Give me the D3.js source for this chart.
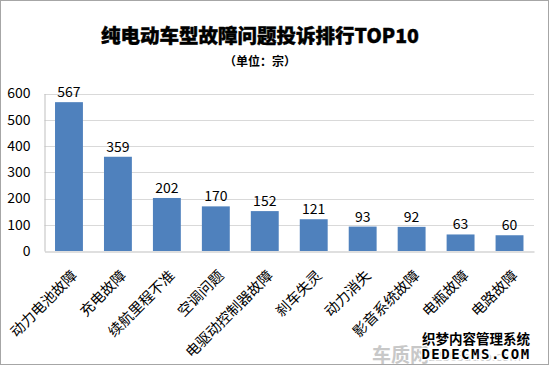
<!DOCTYPE html>
<html><head><meta charset="utf-8">
<script src="https://cdn.jsdelivr.net/npm/d3@7"></script>
<style>body{margin:0;background:#fff}svg{display:block}</style>
</head><body>
<script>
const categories = ["动力电池故障","充电故障","续航里程不准","空调问题","电驱动控制器故障","刹车失灵","动力消失","影音系统故障","电瓶故障","电路故障"];
const values = [567,359,202,170,152,121,93,92,63,60];
const yTicks = [0,100,200,300,400,500,600];
const title = "纯电动车型故障问题投诉排行TOP10";
const subtitle = "（单位：宗）";

const W = 550, H = 367;
const svg = d3.select("body").append("svg").attr("width", W).attr("height", H);
svg.append("rect").attr("x",0.5).attr("y",0.5).attr("width",W-2).attr("height",H-3)
  .attr("fill","#fff").attr("stroke","#a6a6a6");

const font = "'Microsoft YaHei','Noto Sans CJK SC',sans-serif";
const x = d3.scaleBand().domain(categories).range([44.5,534]).paddingInner(0.43).paddingOuter(0.215);
const y = d3.scaleLinear().domain([0,600]).range([251,93.5]);

const grid = svg.append("g");
grid.selectAll("line").data(yTicks.filter(d=>d>0)).join("line")
  .attr("x1",44.5).attr("x2",534).attr("y1",d=>Math.round(y(d))+0.5).attr("y2",d=>Math.round(y(d))+0.5)
  .attr("stroke","#d9d9d9");

const yAxis = svg.append("g").attr("transform","translate(44.5,0)")
  .call(d3.axisLeft(y).tickValues(yTicks).tickSize(0).tickPadding(14));
yAxis.select(".domain").attr("stroke","#bfbfbf");
yAxis.selectAll("text").attr("font-family",font).attr("font-size",14).attr("fill","#000");

svg.selectAll("rect.bar").data(values).join("rect").attr("class","bar")
  .attr("x",(d,i)=>x(categories[i])).attr("width",x.bandwidth())
  .attr("y",d=>y(d)).attr("height",d=>y(0)-y(d)).attr("fill","#4f81bd");

svg.selectAll("text.val").data(values).join("text").attr("class","val")
  .attr("x",(d,i)=>x(categories[i])+x.bandwidth()/2).attr("y",d=>y(d)-5)
  .attr("text-anchor","middle").attr("font-family",font).attr("font-size",14).text(d=>d);

const xAxis = svg.append("g").attr("transform","translate(0,251.5)")
  .call(d3.axisBottom(x).tickSize(0).tickPadding(0));
xAxis.select(".domain").attr("stroke","#bfbfbf");
xAxis.selectAll("text").attr("font-family",font).attr("font-size",14.5).attr("fill","#000")
  .attr("text-anchor","end").attr("dy",0)
  .attr("transform","translate(9,25) rotate(-45)");

svg.append("text").attr("x",260).attr("y",43).attr("text-anchor","middle")
  .attr("font-family",font).attr("font-weight","900").attr("font-size",19.5)
  .attr("stroke","#000").attr("stroke-width",0.4).text(title);
svg.append("text").attr("x",260).attr("y",66).attr("text-anchor","middle")
  .attr("font-family",font).attr("font-weight","bold").attr("font-size",12).text(subtitle);

// watermark
svg.append("text").attr("x",372).attr("y",362).attr("font-family",font).attr("font-size",19)
  .attr("fill","#c8c8c8").attr("font-weight","bold").text("车质网");
svg.append("text").attr("x",428).attr("y",361).attr("font-family",font).attr("font-size",13)
  .attr("fill","#d0d0d0").text("12365auto.com");
svg.append("text").attr("x",476).attr("y",344).attr("text-anchor","middle").attr("font-family",font)
  .attr("font-size",13.5).attr("font-weight","bold").attr("stroke","#fff").attr("stroke-width",2.5)
  .attr("paint-order","stroke").text("织梦内容管理系统");
svg.append("text").attr("x",476).attr("y",359).attr("text-anchor","middle").attr("font-family","'DejaVu Sans Mono',monospace")
  .attr("font-size",14).attr("font-weight","bold").attr("stroke","#fff").attr("stroke-width",2.5)
  .attr("paint-order","stroke").attr("letter-spacing",1.5).text("DEDECMS.COM");
</script>
</body></html>
